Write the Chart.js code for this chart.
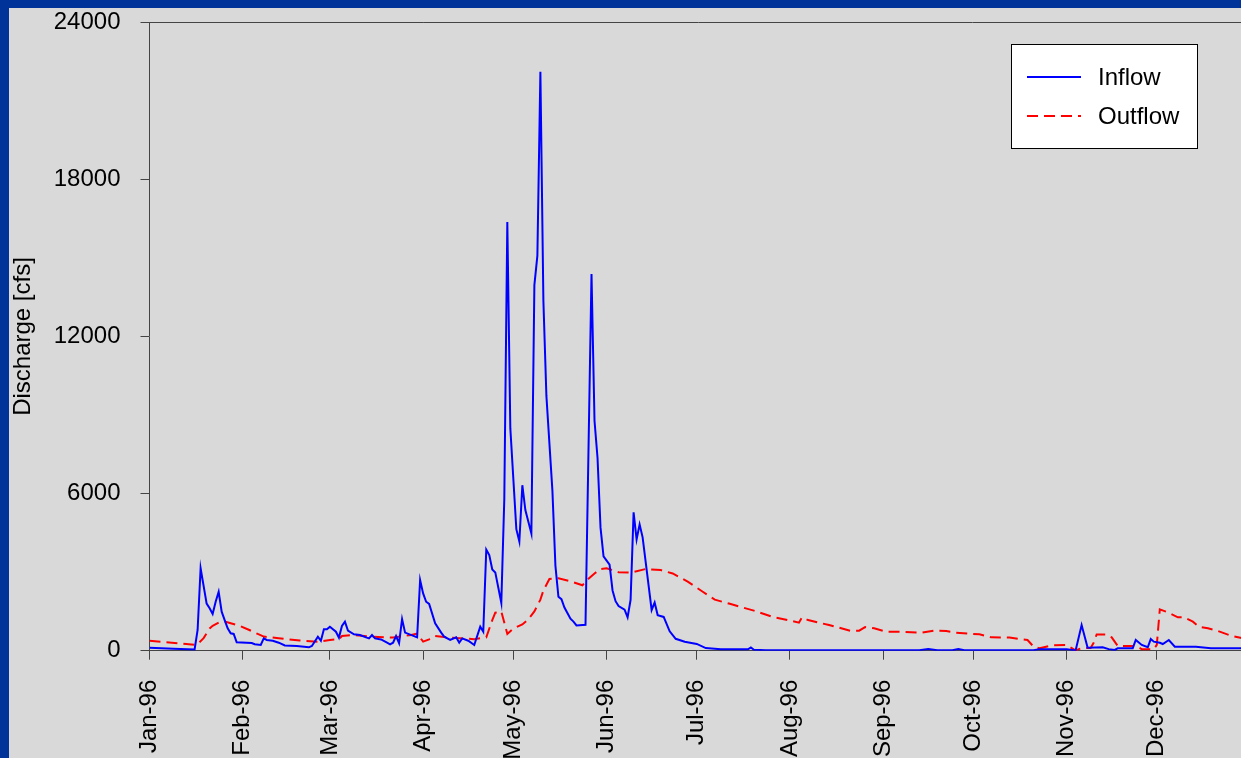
<!DOCTYPE html>
<html lang="en">
<head>
    <meta charset="utf-8"/>
    <title>Inflow / Outflow 1996</title>
    <style>
        html, body {
            margin: 0;
            padding: 0;
            overflow: hidden;
            background: #003399;
        }

        .panel {
            position: absolute;
            left: 9px;
            top: 8px;
            width: 1240px;
            height: 750px;
            background: #d9d9d9;
        }

        .chart-box {
            position: absolute;
            left: 0;
            top: 0;
            width: 1238px; /* runs a little past the window, like the slide */
            height: 750px;
        }
    </style>
</head>
<body>
    <div class="panel">
        <div class="chart-box">
            <canvas id="flow"></canvas>
        </div>
    </div>
    <script src="https://cdn.jsdelivr.net/npm/chart.js@4.4.1/dist/chart.umd.min.js"></script>
    <script>
        // x = day of 1996 (0 = Jan 1)
        const monthLabels = ["Jan-96", "Feb-96", "Mar-96", "Apr-96", "May-96", "Jun-96",
                             "Jul-96", "Aug-96", "Sep-96", "Oct-96", "Nov-96", "Dec-96"];
        const monthStartDays = [0, 31, 60, 91, 121, 152, 182, 213, 244, 274, 305, 335];
        const yTicks = [0, 6000, 12000, 18000, 24000];

        const inflowDays = [0, 8, 15, 16, 17, 19, 20, 21, 22, 23, 24, 25, 26, 27, 28, 29, 34, 35, 37, 38,
            39, 41, 43, 45, 49, 53, 54, 56, 57, 58, 59, 60, 62, 63, 64, 65, 66, 68, 70, 72,
            73, 74, 75, 77, 79, 80, 81, 82, 83, 84, 85, 89, 90, 91, 92, 93, 95, 97, 98, 100,
            102, 103, 104, 106, 108, 110, 111, 112, 113, 114, 115, 117, 118, 119, 120, 122, 123, 124, 125, 127,
            128, 129, 130, 131, 132, 134, 135, 136, 137, 138, 140, 141, 142, 145, 147, 148, 149, 150, 151, 153,
            154, 155, 156, 158, 159, 160, 161, 162, 163, 164, 167, 168, 169, 171, 173, 175, 178, 182, 185, 190,
            199, 200, 201, 205, 256, 259, 262, 267, 269, 271, 294, 296, 305, 308, 310, 312, 317, 319, 321, 322,
            327, 328, 330, 332, 333, 334, 336, 337, 339, 341, 348, 353, 365];
        const inflowValues = [110, 70, 50, 790, 3150, 1800, 1620, 1400, 1870, 2250, 1490, 1170, 855, 665, 640, 320, 290, 245, 218, 470,
            410, 380, 305, 200, 180, 130, 180, 535, 380, 815, 815, 915, 725, 500, 945, 1110, 765, 625, 600, 510,
            470, 600, 470, 430, 305, 240, 305, 560, 290, 1210, 690, 510, 2700, 2190, 1870, 1785, 1045, 690, 535, 410,
            510, 305, 470, 380, 218, 915, 725, 3860, 3650, 3100, 2990, 1830, 5800, 16375, 8500, 4640, 4170, 6320, 5370, 4480,
            13960, 15090, 22115, 13355, 9730, 6105, 3240, 2060, 1970, 1650, 1220, 1110, 965, 990, 14385, 8780, 7370, 4700, 3600, 3290,
            2300, 1890, 1705, 1565, 1275, 1945, 5285, 4250, 4825, 4330, 1555, 1840, 1360, 1290, 740, 455, 340, 260, 100, 60,
            55, 120, 35, 20, 20, 60, 20, 20, 60, 20, 20, 60, 60, 10, 980, 115, 130, 60, 30, 90,
            90, 410, 220, 130, 445, 345, 305, 255, 410, 155, 155, 90, 90];

        const outflowDays = [0, 5, 10, 15, 16, 18, 20, 21, 23, 25, 27, 30, 33, 36, 38, 43, 50, 56, 60, 63,
            64, 68, 74, 81, 87, 89, 91, 93, 95, 99, 108, 112, 114, 115, 117, 119, 121, 124, 126, 128,
            130, 131, 133, 136, 140, 144, 146, 148, 150, 152, 156, 160, 165, 170, 174, 179, 184, 188, 193, 201,
            207, 213, 216, 217, 219, 226, 233, 236, 238, 241, 245, 250, 257, 261, 265, 268, 276, 280, 286, 292,
            294, 296, 300, 305, 308, 310, 313, 314, 315, 318, 320, 322, 328, 330, 334, 335, 336, 339, 342, 344,
            347, 349, 352, 355, 360, 365];
        const outflowValues = [380, 330, 280, 230, 250, 480, 850, 950, 1070, 1110, 1050, 950, 800, 640, 540, 475, 390, 345, 410, 440,
            560, 600, 535, 500, 600, 650, 345, 435, 560, 510, 440, 510, 1170, 1450, 1500, 640, 850, 1000, 1200, 1500,
            1950, 2300, 2740, 2770, 2650, 2500, 2750, 2950, 3120, 3150, 3000, 2980, 3120, 3080, 2950, 2640, 2250, 1950, 1790, 1530,
            1300, 1150, 1070, 1270, 1170, 980, 765, 765, 900, 855, 725, 725, 690, 765, 750, 690, 625, 510, 500, 410,
            155, 90, 200, 220, 10, 100, 100, 300, 620, 620, 510, 180, 180, 60, 60, 220, 1580, 1450, 1275, 1275,
            1110, 915, 855, 765, 560, 440];

        const inflow = inflowDays.map((d, i) => ({ x: d, y: inflowValues[i] }));
        const outflow = outflowDays.map((d, i) => ({ x: d, y: outflowValues[i] }));

        const FONT = '"Liberation Sans", Arial, Helvetica, sans-serif';
        Chart.defaults.font.family = FONT;
        Chart.defaults.font.size = 24;
        Chart.defaults.color = "#000000";

        // white boxed legend inside the plot + top border of the plot area
        const boxLegend = {
            id: "boxLegend",
            beforeDatasetsDraw(chart) {
                const { ctx, chartArea } = chart;
                ctx.save();
                ctx.strokeStyle = "#444444";
                ctx.lineWidth = 1;
                ctx.beginPath();
                ctx.moveTo(chartArea.left, Math.round(chartArea.top) + 0.5);
                ctx.lineTo(chartArea.right, Math.round(chartArea.top) + 0.5);
                ctx.stroke();
                ctx.restore();
            },
            afterDatasetsDraw(chart) {
                const { ctx, chartArea } = chart;
                const x = Math.round(chartArea.left + 861);
                const y = Math.round(chartArea.top + 22);
                const w = 186, h = 104;
                ctx.save();
                ctx.fillStyle = "#ffffff";
                ctx.fillRect(x, y, w, h);
                ctx.strokeStyle = "#000000";
                ctx.lineWidth = 1;
                ctx.strokeRect(x + 0.5, y + 0.5, w, h);
                chart.data.datasets.forEach((ds, i) => {
                    const ly = y + 33 + i * 39;
                    ctx.beginPath();
                    ctx.setLineDash(ds.borderDash || []);
                    ctx.strokeStyle = ds.borderColor;
                    ctx.lineWidth = 2;
                    ctx.moveTo(x + 16, ly);
                    ctx.lineTo(x + 70, ly);
                    ctx.stroke();
                    ctx.setLineDash([]);
                    ctx.fillStyle = "#000000";
                    ctx.font = "24px " + FONT;
                    ctx.textBaseline = "middle";
                    ctx.fillText(ds.label, x + 87, ly + 1);
                });
                ctx.restore();
            }
        };

        const context = document.getElementById("flow").getContext("2d");
        new Chart(context, {
            type: "line",
            data: {
                datasets: [
                    {
                        label: "Inflow",
                        data: inflow,
                        borderColor: "#0000ff",
                        borderWidth: 2,
                        pointRadius: 0,
                        tension: 0
                    },
                    {
                        label: "Outflow",
                        data: outflow,
                        borderColor: "#ff0000",
                        borderWidth: 2,
                        borderDash: [11, 6],
                        pointRadius: 0,
                        tension: 0
                    }
                ]
            },
            options: {
                responsive: true,
                maintainAspectRatio: false,
                animation: false,
                layout: {
                    padding: { top: 14.3, right: 0, bottom: 0, left: 0 }
                },
                plugins: {
                    legend: { display: false },
                    tooltip: { enabled: false }
                },
                scales: {
                    x: {
                        type: "linear",
                        min: 0,
                        max: 365,
                        afterBuildTicks: (scale) => {
                            scale.ticks = monthStartDays.map(v => ({ value: v }));
                        },
                        afterFit: (scale) => {
                            scale.height = 107.3;
                            scale.paddingLeft = 0;
                            scale.paddingRight = 0;
                        },
                        ticks: {
                            autoSkip: false,
                            minRotation: 90,
                            maxRotation: 90,
                            padding: 20,
                            callback: (value, index) => monthLabels[index]
                        },
                        grid: {
                            drawOnChartArea: false,
                            tickLength: 9,
                            color: "#444444"
                        },
                        border: { color: "#444444", width: 1 }
                    },
                    y: {
                        min: 0,
                        max: 24000,
                        afterBuildTicks: (scale) => {
                            scale.ticks = yTicks.map(v => ({ value: v }));
                        },
                        afterFit: (scale) => {
                            scale.width = 140.5;
                            scale.paddingTop = 0;
                            scale.paddingBottom = 0;
                        },
                        ticks: {
                            padding: 20,
                            callback: (value) => String(value)
                        },
                        grid: {
                            drawOnChartArea: false,
                            tickLength: 9,
                            color: "#444444"
                        },
                        border: { color: "#444444", width: 1 },
                        title: {
                            display: true,
                            text: "Discharge [cfs]",
                            padding: 0,
                            font: { size: 24 }
                        }
                    }
                }
            },
            plugins: [boxLegend]
        });
    </script>
</body>
</html>
